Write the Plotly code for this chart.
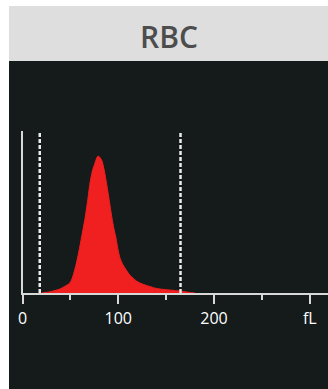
import plotly.graph_objects as go

# ---- data ----
volume_fl = [20, 23.5, 28.7, 34, 39, 44, 49.5, 52, 54.8, 57.5, 60, 62.5, 65.2, 68, 70.5, 73, 75.7, 77.5, 78.8,
             80.5, 83, 85.5, 88.2, 91, 93.4, 95.5, 97.6, 100, 101.8, 105, 109, 112, 115.3, 119, 122.6,
             128, 133, 138, 143.5, 150, 156, 161, 166, 170, 175, 180]
counts = [0, 0.5, 1.2, 2.5, 4, 6.5, 10, 15, 24, 35, 47, 60, 74, 92, 110, 122, 130, 135, 137,
          136, 132, 122, 107, 90, 75, 64, 55, 42, 35, 28, 22, 18, 15, 12, 10,
          8, 6.5, 5, 4, 3.3, 2.8, 2.3, 1.8, 1.2, 0.5, 0]
gate_lines_fl = [18, 165]
tick_vals = [0, 100, 200, 300]
tick_text = ["0", "100", "200", "fL"]
title_text = "RBC"

W, H = 328, 389
x_left_px, x_axis_px, y_top_px = 22.5, 293, 131
x_max = 319
y_max = 162

fig = go.Figure()

fig.add_trace(go.Scatter(
    x=volume_fl, y=counts, mode="lines", line=dict(color="#f02020", width=1, shape="spline", smoothing=0.6),
    fill="tozeroy", fillcolor="#f02020", hoverinfo="skip", showlegend=False))

for g in gate_lines_fl:
    fig.add_trace(go.Scatter(
        x=[g, g], y=[0, y_max], mode="lines",
        line=dict(color="#ececec", width=2.5, dash="4px,2px"),
        hoverinfo="skip", showlegend=False))

# background panels
fig.add_shape(type="rect", xref="paper", yref="paper",
              x0=9 / W, x1=1, y0=1 - 61 / H, y1=1 - 6 / H,
              fillcolor="#dedede", line_width=0, layer="below")
fig.add_shape(type="rect", xref="paper", yref="paper",
              x0=9 / W, x1=1, y0=0, y1=1 - 61 / H,
              fillcolor="#151a1a", line_width=0, layer="below")

fig.add_annotation(text=title_text, xref="paper", yref="paper",
                   x=168.5 / W, y=1 - 37 / H, xanchor="center", yanchor="middle",
                   showarrow=False,
                   font=dict(family="Open Sans", size=30, color="#4d4d4d", weight=600))

fig.update_layout(
    width=W, height=H, margin=dict(l=0, r=0, t=0, b=0, autoexpand=False),
    paper_bgcolor="white", plot_bgcolor="rgba(0,0,0,0)",
    xaxis=dict(domain=[x_left_px / W, 1], range=[0, x_max], automargin=False,
               showgrid=False, zeroline=False,
               showline=True, linecolor="#d8d8d8", linewidth=2,
               ticks="outside", tickcolor="#d8d8d8", tickwidth=2, ticklen=9,
               tickvals=tick_vals, ticktext=tick_text,
               minor=dict(tickvals=[50, 150, 250], ticks="outside", ticklen=5,
                          tickcolor="#d8d8d8", tickwidth=2),
               tickfont=dict(family="Open Sans", size=16, color="white"),
               ticklabelstandoff=1, fixedrange=True),
    yaxis=dict(domain=[(H - x_axis_px) / H, (H - y_top_px) / H], range=[0, y_max], automargin=False,
               showgrid=False, zeroline=False, showticklabels=False,
               showline=True, linecolor="#d8d8d8", linewidth=2, fixedrange=True),
)

fig.write_html("out.html")
